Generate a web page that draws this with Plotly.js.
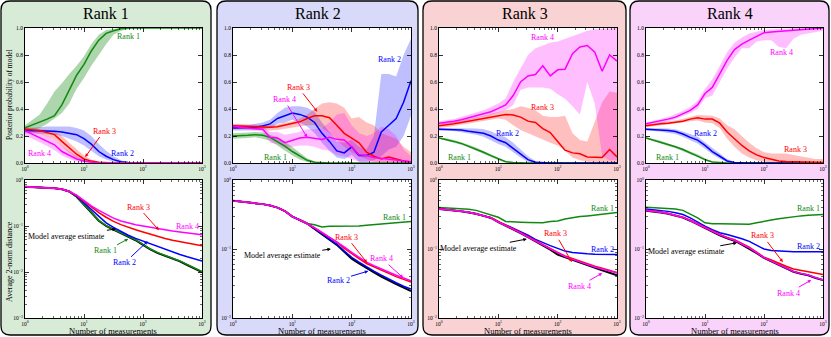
<!DOCTYPE html>
<html><head><meta charset="utf-8">
<script src="https://cdn.plot.ly/plotly-3.0.1.min.js"></script>
<style>html,body{margin:0;padding:0;background:#fff}#chart{width:831px;height:337px}</style>
</head><body><div id="chart"></div>
<script>
// ---------------- DATA ----------------
const measurements = [1,1.33,1.78,2.37,3.16,4.22,5.62,7.5,10,13.3,17.8,23.7,31.6,42.2,56.2,75,100,133,178,237,316,422,562,750,1000];
const rankNames = ['Rank 1','Rank 2','Rank 3','Rank 4'];
const decadeVals = [1,10,100,1000];
const decadeText = ['10<sup>0</sup>','10<sup>1</sup>','10<sup>2</sup>','10<sup>3</sup>'];
const probVals = [0,0.2,0.4,0.6,0.8,1.0];
const probText = ['0.0','0.2','0.4','0.6','0.8','1.0'];

// Panel 1 (true rank 1) - posterior probabilities
const p1Rank1Mean = [0.26,0.28,0.30,0.325,0.35,0.43,0.54,0.65,0.73,0.83,0.91,0.96,0.98,0.995,1,1,1,1,1,1,1,1,1,1,1];
const p1Rank1Lo   = [0.23,0.245,0.26,0.29,0.33,0.37,0.44,0.55,0.63,0.72,0.80,0.88,0.95,0.98,0.99,1,1,1,1,1,1,1,1,1,1];
const p1Rank1Hi   = [0.28,0.32,0.36,0.44,0.53,0.59,0.66,0.72,0.79,0.88,0.95,0.985,0.995,1,1,1,1,1,1,1,1,1,1,1,1];
const p1Rank2Mean = [0.24,0.24,0.24,0.24,0.235,0.23,0.22,0.21,0.18,0.14,0.085,0.05,0.025,0.01,0.003,0,0,0,0,0,0,0,0,0,0];
const p1Rank2Lo   = [0.22,0.22,0.22,0.215,0.21,0.20,0.18,0.16,0.13,0.09,0.05,0.025,0.01,0.003,0,0,0,0,0,0,0,0,0,0,0];
const p1Rank2Hi   = [0.26,0.26,0.265,0.27,0.27,0.27,0.27,0.26,0.24,0.20,0.14,0.09,0.05,0.02,0.008,0.002,0,0,0,0,0,0,0,0,0];
const p1Rank3Mean = [0.25,0.245,0.24,0.225,0.21,0.16,0.115,0.065,0.03,0.014,0.005,0.001,0,0,0,0,0,0,0,0,0,0,0,0,0];
const p1Rank3Lo   = [0.23,0.225,0.215,0.195,0.175,0.12,0.075,0.035,0.012,0.004,0,0,0,0,0,0,0,0,0,0,0,0,0,0,0];
const p1Rank3Hi   = [0.265,0.26,0.255,0.245,0.235,0.20,0.15,0.10,0.055,0.025,0.01,0.003,0,0,0,0,0,0,0,0,0,0,0,0,0];
const p1Rank4Mean = [0.24,0.215,0.19,0.16,0.135,0.085,0.055,0.03,0.015,0.005,0.001,0,0,0,0,0,0,0,0,0,0,0,0,0,0];
const p1Rank4Lo   = [0.20,0.18,0.155,0.125,0.095,0.055,0.03,0.012,0.004,0,0,0,0,0,0,0,0,0,0,0,0,0,0,0,0];
const p1Rank4Hi   = [0.26,0.24,0.22,0.20,0.175,0.125,0.085,0.05,0.025,0.01,0.003,0,0,0,0,0,0,0,0,0,0,0,0,0,0];
// Panel 1 - average 2-norm distance
const p1DistRank1 = [0.716,0.708,0.700,0.684,0.661,0.631,0.562,0.437,0.302,0.200,0.132,0.102,0.0851,0.0708,0.0603,0.0501,0.0398,0.0316,0.0263,0.0229,0.0200,0.0174,0.0145,0.0120,0.0102];
const p1DistRank2 = [0.716,0.708,0.700,0.684,0.661,0.631,0.562,0.447,0.316,0.224,0.158,0.117,0.0933,0.0759,0.0631,0.0537,0.0468,0.0407,0.0355,0.0309,0.0269,0.0240,0.0214,0.0191,0.0174];
const p1DistRank3 = [0.716,0.708,0.700,0.684,0.661,0.631,0.562,0.457,0.339,0.257,0.195,0.155,0.126,0.107,0.0933,0.0832,0.0741,0.0661,0.0589,0.0537,0.0490,0.0457,0.0427,0.0398,0.0372];
const p1DistRank4 = [0.716,0.708,0.700,0.684,0.661,0.631,0.562,0.468,0.355,0.275,0.219,0.178,0.148,0.129,0.117,0.107,0.100,0.0933,0.0871,0.0813,0.0776,0.0741,0.0708,0.0676,0.0646];
const p1DistAvg   = [0.716,0.708,0.700,0.684,0.661,0.631,0.562,0.432,0.298,0.197,0.130,0.100,0.0835,0.0695,0.0590,0.0490,0.0390,0.0310,0.0258,0.0225,0.0196,0.0170,0.0142,0.0118,0.0100];

// Panel 2 (true rank 2)
const p2Rank1Mean = [0.20,0.20,0.205,0.21,0.205,0.19,0.16,0.125,0.085,0.05,0.02,0.005,0,0,0,0,0,0,0,0,0,0,0,0,0];
const p2Rank1Lo   = [0.18,0.18,0.185,0.19,0.18,0.165,0.13,0.09,0.055,0.025,0.008,0,0,0,0,0,0,0,0,0,0,0,0,0,0];
const p2Rank1Hi   = [0.22,0.22,0.225,0.23,0.225,0.21,0.19,0.16,0.12,0.075,0.035,0.012,0.003,0,0,0,0,0,0,0,0,0,0,0,0];
const p2Rank2Mean = [0.26,0.26,0.26,0.265,0.275,0.29,0.33,0.35,0.37,0.36,0.34,0.30,0.22,0.16,0.09,0.075,0.12,0.055,0.055,0.08,0.23,0.28,0.33,0.45,0.61];
const p2Rank2Lo   = [0.24,0.24,0.24,0.24,0.25,0.26,0.29,0.30,0.32,0.30,0.27,0.22,0.15,0.09,0.04,0.03,0.06,0.01,0.01,0.02,0.05,0.10,0.12,0.20,0.35];
const p2Rank2Hi   = [0.28,0.28,0.28,0.29,0.30,0.32,0.37,0.41,0.42,0.42,0.41,0.38,0.30,0.23,0.16,0.15,0.17,0.12,0.10,0.20,0.66,0.66,0.64,0.80,0.92];
const p2Rank3Mean = [0.275,0.272,0.27,0.268,0.266,0.265,0.268,0.28,0.29,0.305,0.33,0.35,0.35,0.335,0.28,0.22,0.185,0.15,0.08,0.05,0.03,0.045,0.03,0.015,0.007];
const p2Rank3Lo   = [0.25,0.25,0.25,0.245,0.245,0.24,0.245,0.25,0.26,0.27,0.28,0.28,0.26,0.22,0.17,0.12,0.08,0.05,0.03,0.01,0.005,0,0,0,0];
const p2Rank3Hi   = [0.29,0.29,0.29,0.285,0.28,0.28,0.285,0.30,0.31,0.33,0.36,0.40,0.44,0.45,0.44,0.41,0.33,0.34,0.30,0.28,0.22,0.20,0.18,0.12,0.08];
const p2Rank4Mean = [0.27,0.265,0.265,0.26,0.25,0.19,0.185,0.15,0.17,0.185,0.19,0.18,0.175,0.19,0.175,0.17,0.12,0.06,0.055,0.04,0.035,0.03,0.02,0.015,0.01];
const p2Rank4Lo   = [0.255,0.25,0.25,0.245,0.23,0.15,0.14,0.11,0.12,0.13,0.13,0.12,0.10,0.09,0.06,0.05,0.03,0.01,0.01,0.005,0,0,0,0,0];
const p2Rank4Hi   = [0.285,0.28,0.28,0.28,0.27,0.23,0.23,0.21,0.22,0.23,0.25,0.25,0.26,0.30,0.36,0.37,0.28,0.22,0.20,0.22,0.27,0.25,0.20,0.10,0.05];
const p2DistRank1 = [0.501,0.490,0.479,0.462,0.447,0.427,0.398,0.355,0.295,0.263,0.234,0.224,0.209,0.214,0.214,0.214,0.214,0.216,0.221,0.226,0.232,0.237,0.243,0.245,0.251];
const p2DistRank2 = [0.501,0.490,0.479,0.462,0.447,0.427,0.398,0.355,0.295,0.263,0.234,0.197,0.164,0.138,0.117,0.0933,0.0759,0.0646,0.0550,0.0479,0.0417,0.0363,0.0324,0.0288,0.0263];
const p2DistRank3 = [0.501,0.490,0.479,0.462,0.447,0.427,0.398,0.355,0.295,0.263,0.234,0.200,0.170,0.145,0.126,0.102,0.0851,0.0724,0.0617,0.0550,0.0490,0.0437,0.0398,0.0363,0.0331];
const p2DistRank4 = [0.501,0.490,0.479,0.462,0.447,0.427,0.398,0.355,0.295,0.263,0.234,0.204,0.174,0.148,0.129,0.107,0.0891,0.0759,0.0646,0.0575,0.0513,0.0457,0.0417,0.0380,0.0347];
const p2DistAvg   = [0.501,0.490,0.479,0.462,0.447,0.427,0.398,0.355,0.295,0.263,0.234,0.195,0.162,0.135,0.115,0.0912,0.0724,0.0617,0.0525,0.0457,0.0398,0.0347,0.0309,0.0275,0.0245];

// Panel 3 (true rank 3)
const p3Rank1Mean = [0.185,0.175,0.16,0.145,0.125,0.105,0.08,0.055,0.03,0.01,0.003,0,0,0,0,0,0,0,0,0,0,0,0,0,0];
const p3Rank1Lo   = [0.18,0.167,0.15,0.135,0.115,0.095,0.07,0.045,0.02,0.005,0,0,0,0,0,0,0,0,0,0,0,0,0,0,0];
const p3Rank1Hi   = [0.19,0.183,0.17,0.155,0.135,0.115,0.09,0.065,0.04,0.015,0.005,0,0,0,0,0,0,0,0,0,0,0,0,0,0];
const p3Rank2Mean = [0.25,0.25,0.248,0.245,0.235,0.23,0.22,0.20,0.17,0.15,0.11,0.065,0.025,0.005,0,0,0,0,0,0,0,0,0,0,0];
const p3Rank2Lo   = [0.24,0.24,0.237,0.232,0.22,0.21,0.195,0.17,0.14,0.12,0.08,0.04,0.01,0,0,0,0,0,0,0,0,0,0,0,0];
const p3Rank2Hi   = [0.26,0.26,0.26,0.26,0.255,0.255,0.25,0.235,0.21,0.19,0.15,0.10,0.05,0.015,0.003,0,0,0,0,0,0,0,0,0,0];
const p3Rank3Mean = [0.275,0.28,0.29,0.30,0.31,0.32,0.335,0.345,0.355,0.36,0.355,0.34,0.31,0.30,0.255,0.225,0.16,0.095,0.075,0.068,0.045,0.045,0.04,0.10,0.045];
const p3Rank3Lo   = [0.26,0.265,0.275,0.285,0.29,0.30,0.31,0.32,0.33,0.32,0.28,0.245,0.22,0.20,0.175,0.15,0.13,0.09,0.04,0.02,0.01,0.01,0.005,0,0];
const p3Rank3Hi   = [0.29,0.295,0.305,0.315,0.325,0.335,0.35,0.365,0.38,0.39,0.40,0.42,0.41,0.39,0.35,0.34,0.34,0.35,0.22,0.17,0.16,0.30,0.45,0.53,0.52];
const p3Rank4Mean = [0.295,0.30,0.31,0.32,0.335,0.35,0.365,0.38,0.405,0.43,0.50,0.60,0.645,0.655,0.72,0.645,0.69,0.695,0.81,0.86,0.87,0.82,0.68,0.80,0.755];
const p3Rank4Lo   = [0.285,0.29,0.295,0.305,0.32,0.33,0.345,0.355,0.37,0.39,0.43,0.54,0.56,0.56,0.56,0.55,0.51,0.475,0.42,0.36,0.60,0.44,0.05,0.02,0.02];
const p3Rank4Hi   = [0.31,0.315,0.325,0.34,0.355,0.37,0.39,0.415,0.44,0.48,0.60,0.70,0.80,0.85,0.87,0.89,0.90,0.92,0.94,0.96,0.98,0.99,0.995,1,1];
const p3DistRank1 = [0.398,0.394,0.389,0.385,0.376,0.363,0.339,0.316,0.288,0.251,0.245,0.245,0.243,0.240,0.240,0.251,0.254,0.272,0.285,0.295,0.302,0.309,0.320,0.327,0.339];
const p3DistRank2 = [0.382,0.374,0.365,0.353,0.341,0.326,0.304,0.284,0.247,0.224,0.200,0.178,0.158,0.138,0.123,0.112,0.102,0.0933,0.0891,0.0861,0.0851,0.0841,0.0841,0.0832,0.0832];
const p3DistRank3 = [0.382,0.374,0.365,0.353,0.341,0.326,0.304,0.284,0.247,0.221,0.197,0.172,0.150,0.131,0.116,0.101,0.0891,0.0794,0.0724,0.0661,0.0617,0.0562,0.0525,0.0490,0.0457];
const p3DistRank4 = [0.381,0.373,0.364,0.352,0.340,0.325,0.303,0.283,0.246,0.220,0.196,0.171,0.149,0.130,0.115,0.100,0.0871,0.0776,0.0708,0.0646,0.0603,0.0550,0.0513,0.0479,0.0447];
const p3DistAvg   = [0.380,0.372,0.363,0.351,0.339,0.324,0.302,0.282,0.245,0.219,0.195,0.170,0.148,0.129,0.112,0.0977,0.0832,0.0759,0.0692,0.0631,0.0575,0.0525,0.0490,0.0452,0.0417];

// Panel 4 (true rank 4)
const p4Rank1Mean = [0.185,0.17,0.155,0.135,0.12,0.10,0.075,0.055,0.025,0.008,0.002,0,0,0,0,0,0,0,0,0,0,0,0,0,0];
const p4Rank1Lo   = [0.18,0.16,0.145,0.125,0.11,0.09,0.065,0.045,0.017,0.004,0,0,0,0,0,0,0,0,0,0,0,0,0,0,0];
const p4Rank1Hi   = [0.19,0.18,0.165,0.145,0.13,0.11,0.085,0.065,0.035,0.012,0.004,0,0,0,0,0,0,0,0,0,0,0,0,0,0];
const p4Rank2Mean = [0.25,0.248,0.245,0.24,0.233,0.215,0.19,0.17,0.13,0.085,0.05,0.015,0.003,0,0,0,0,0,0,0,0,0,0,0,0];
const p4Rank2Lo   = [0.24,0.237,0.232,0.225,0.215,0.195,0.168,0.145,0.105,0.065,0.032,0.005,0,0,0,0,0,0,0,0,0,0,0,0,0];
const p4Rank2Hi   = [0.26,0.26,0.258,0.255,0.25,0.235,0.215,0.195,0.155,0.11,0.07,0.03,0.008,0,0,0,0,0,0,0,0,0,0,0,0];
const p4Rank3Mean = [0.275,0.285,0.29,0.295,0.30,0.31,0.325,0.335,0.325,0.325,0.295,0.23,0.18,0.13,0.09,0.06,0.04,0.025,0.015,0.012,0.01,0.008,0.006,0.005,0.004];
const p4Rank3Lo   = [0.265,0.275,0.28,0.285,0.29,0.30,0.31,0.315,0.30,0.295,0.26,0.18,0.12,0.07,0.04,0.02,0.01,0.005,0,0,0,0,0,0,0];
const p4Rank3Hi   = [0.285,0.295,0.30,0.31,0.315,0.325,0.34,0.355,0.35,0.35,0.33,0.28,0.25,0.20,0.15,0.11,0.08,0.07,0.07,0.07,0.06,0.05,0.04,0.03,0.03];
const p4Rank4Mean = [0.29,0.30,0.31,0.325,0.34,0.365,0.39,0.43,0.515,0.56,0.665,0.76,0.84,0.88,0.91,0.94,0.965,0.97,0.975,0.98,0.985,0.99,0.995,1,1];
const p4Rank4Lo   = [0.28,0.29,0.295,0.31,0.325,0.345,0.37,0.40,0.48,0.50,0.60,0.70,0.78,0.85,0.85,0.90,0.91,0.91,0.86,0.85,0.92,0.95,0.96,0.97,0.98];
const p4Rank4Hi   = [0.30,0.31,0.325,0.34,0.36,0.385,0.415,0.46,0.55,0.62,0.72,0.82,0.89,0.93,0.96,0.975,0.985,0.99,0.99,0.995,1,1,1,1,1];
const p4DistRank1 = [0.403,0.398,0.394,0.389,0.380,0.363,0.324,0.282,0.240,0.232,0.232,0.232,0.232,0.229,0.229,0.240,0.254,0.263,0.275,0.285,0.295,0.302,0.309,0.313,0.316];
const p4DistRank2 = [0.380,0.372,0.363,0.351,0.335,0.316,0.282,0.245,0.214,0.191,0.172,0.162,0.153,0.141,0.129,0.112,0.100,0.0955,0.0933,0.0923,0.0912,0.0912,0.0912,0.0912,0.0912];
const p4DistRank3 = [0.363,0.355,0.343,0.328,0.309,0.289,0.261,0.230,0.204,0.182,0.162,0.147,0.136,0.120,0.106,0.0900,0.0759,0.0692,0.0617,0.0562,0.0513,0.0490,0.0473,0.0447,0.0427];
const p4DistRank4 = [0.361,0.353,0.341,0.326,0.307,0.287,0.259,0.228,0.202,0.180,0.160,0.145,0.134,0.118,0.104,0.0885,0.0750,0.0668,0.0595,0.0530,0.0472,0.0440,0.0420,0.0383,0.0358];
const p4DistAvg   = [0.359,0.351,0.339,0.324,0.305,0.285,0.257,0.226,0.200,0.178,0.158,0.143,0.132,0.116,0.102,0.0871,0.0741,0.0661,0.0589,0.0525,0.0468,0.0437,0.0417,0.0380,0.0355];

// ---------------- STYLE / LAYOUT ----------------
const W = 831, H = 337;
const colors = ['#118811','#0000ff','#ff0000','#ff00ff'];
const fills = ['rgba(0,128,0,0.32)','rgba(0,0,255,0.25)','rgba(255,0,0,0.25)','rgba(255,0,255,0.25)'];
const panelBg = ['#d7ebd7','#d9d9f9','#f9d3d3','#f9d3f9'];
const FONT = '"Liberation Serif", "Times New Roman", Times, "DejaVu Serif", serif';

const panels = [
  {mean:[p1Rank1Mean,p1Rank2Mean,p1Rank3Mean,p1Rank4Mean], lo:[p1Rank1Lo,p1Rank2Lo,p1Rank3Lo,p1Rank4Lo], hi:[p1Rank1Hi,p1Rank2Hi,p1Rank3Hi,p1Rank4Hi], dist:[p1DistRank1,p1DistRank2,p1DistRank3,p1DistRank4], avg:p1DistAvg, ymin:-3},
  {mean:[p2Rank1Mean,p2Rank2Mean,p2Rank3Mean,p2Rank4Mean], lo:[p2Rank1Lo,p2Rank2Lo,p2Rank3Lo,p2Rank4Lo], hi:[p2Rank1Hi,p2Rank2Hi,p2Rank3Hi,p2Rank4Hi], dist:[p2DistRank1,p2DistRank2,p2DistRank3,p2DistRank4], avg:p2DistAvg, ymin:-2},
  {mean:[p3Rank1Mean,p3Rank2Mean,p3Rank3Mean,p3Rank4Mean], lo:[p3Rank1Lo,p3Rank2Lo,p3Rank3Lo,p3Rank4Lo], hi:[p3Rank1Hi,p3Rank2Hi,p3Rank3Hi,p3Rank4Hi], dist:[p3DistRank1,p3DistRank2,p3DistRank3,p3DistRank4], avg:p3DistAvg, ymin:-2},
  {mean:[p4Rank1Mean,p4Rank2Mean,p4Rank3Mean,p4Rank4Mean], lo:[p4Rank1Lo,p4Rank2Lo,p4Rank3Lo,p4Rank4Lo], hi:[p4Rank1Hi,p4Rank2Hi,p4Rank3Hi,p4Rank4Hi], dist:[p4DistRank1,p4DistRank2,p4DistRank3,p4DistRank4], avg:p4DistAvg, ymin:-2}
];

// pixel geometry
const plotX = [[25,202],[233,411],[439,617],[646,823]];
const boxX = [[1,211],[217,418],[423,626],[630,829]];
const topY = [28,163], botY = [180,318];
const pxX = v => v / W, pxY = v => 1 - v / H;

const traces = [];
const layout = {
  width: W, height: H, margin:{l:0,r:0,t:0,b:0},
  paper_bgcolor:'#ffffff', plot_bgcolor:'#ffffff', showlegend:false,
  font:{family:FONT, color:'#000'}, shapes:[], annotations:[]
};

function axisBase(){
  return {showgrid:false, zeroline:false, showline:true, linecolor:'#000', linewidth:1,
    mirror:'allticks', ticks:'inside', ticklen:4, tickwidth:0.8, tickcolor:'#000',
    tickfont:{family:FONT, size:5.5, color:'#000'}, fixedrange:true};
}
const minorLog = {ticks:'inside', ticklen:2, tickwidth:0.6, tickcolor:'#000',
  tickmode:'array', tickvals:[2,3,4,5,6,7,8,9,20,30,40,50,60,70,80,90,200,300,400,500,600,700,800,900]};
const minorLogY = {ticks:'inside', ticklen:2, tickwidth:0.6, tickcolor:'#000',
  tickmode:'array', tickvals:[0.002,0.003,0.004,0.005,0.006,0.007,0.008,0.009,0.02,0.03,0.04,0.05,0.06,0.07,0.08,0.09,0.2,0.3,0.4,0.5,0.6,0.7,0.8,0.9]};

function rr(x0,y0,x1,y1,r){
  const X=pxX, Y=pxY;
  return `M${X(x0+r)},${Y(y0)} L${X(x1-r)},${Y(y0)} Q${X(x1)},${Y(y0)} ${X(x1)},${Y(y0+r)} `+
         `L${X(x1)},${Y(y1-r)} Q${X(x1)},${Y(y1)} ${X(x1-r)},${Y(y1)} L${X(x0+r)},${Y(y1)} `+
         `Q${X(x0)},${Y(y1)} ${X(x0)},${Y(y1-r)} L${X(x0)},${Y(y0+r)} Q${X(x0)},${Y(y0)} ${X(x0+r)},${Y(y0)} Z`;
}

panels.forEach((P, k) => {
  const ti = k + 1, bi = k + 5;
  const xt = ti === 1 ? 'x' : 'x' + ti, yt = ti === 1 ? 'y' : 'y' + ti;
  const xb = 'x' + bi, yb = 'y' + bi;
  const dom = [pxX(plotX[k][0]), pxX(plotX[k][1])];

  layout[ti === 1 ? 'xaxis' : 'xaxis' + ti] = Object.assign(axisBase(), {domain:dom, anchor:yt, type:'log', range:[0,3],
    tickmode:'array', tickvals:decadeVals, ticktext:decadeText, minor:minorLog});
  layout[ti === 1 ? 'yaxis' : 'yaxis' + ti] = Object.assign(axisBase(), {domain:[pxY(topY[1]), pxY(topY[0])], anchor:xt, range:[0,1],
    tickmode:'array', tickvals:probVals, ticktext:probText});
  layout['xaxis' + bi] = Object.assign(axisBase(), {domain:dom, anchor:yb, type:'log', range:[0,3],
    tickmode:'array', tickvals:decadeVals, ticktext:decadeText, minor:minorLog});
  const yv = [], yt2 = [];
  for (let e = P.ymin; e <= 0; e++) { yv.push(Math.pow(10, e)); yt2.push('10<sup>' + (e < 0 ? '\u2212' + (-e) : '0') + '</sup>'); }
  layout['yaxis' + bi] = Object.assign(axisBase(), {domain:[pxY(botY[1]), pxY(botY[0])], anchor:xb, type:'log', range:[P.ymin,0],
    tickmode:'array', tickvals:yv, ticktext:yt2, minor:minorLogY});

  // bands
  const rev = measurements.slice().reverse();
  for (let r = 0; r < 4; r++) {
    traces.push({type:'scatter', mode:'lines', x:measurements.concat(rev), y:P.hi[r].concat(P.lo[r].slice().reverse()),
      xaxis:xt, yaxis:yt, fill:'toself', fillcolor:fills[r], line:{width:0}, hoverinfo:'skip'});
  }
  for (let r = 0; r < 4; r++) {
    traces.push({type:'scatter', mode:'lines', x:measurements, y:P.mean[r], xaxis:xt, yaxis:yt,
      line:{color:colors[r], width:1.5}, name:rankNames[r]});
  }
  // distances
  traces.push({type:'scatter', mode:'lines', x:measurements, y:P.avg, xaxis:xb, yaxis:yb, line:{color:'#000', width:2}, name:'Model average estimate'});
  for (let r = 0; r < 4; r++) {
    traces.push({type:'scatter', mode:'lines', x:measurements, y:P.dist[r], xaxis:xb, yaxis:yb,
      line:{color:colors[r], width:1.5}, name:rankNames[r]});
  }

  // panel background
  layout.shapes.push({type:'path', xref:'paper', yref:'paper', layer:'below', path:rr(boxX[k][0],1,boxX[k][1],335,9),
    fillcolor:panelBg[k], line:{color:'#000', width:1.3}});
  [topY, botY].forEach(yy => layout.shapes.push({type:'rect', xref:'paper', yref:'paper', layer:'below',
    x0:pxX(plotX[k][0]), x1:pxX(plotX[k][1]), y0:pxY(yy[1]), y1:pxY(yy[0]), fillcolor:'#ffffff', line:{width:0}}));

  // titles
  layout.annotations.push({xref:'paper', yref:'paper', x:pxX((boxX[k][0]+boxX[k][1])/2), y:pxY(13), text:rankNames[k],
    showarrow:false, font:{family:FONT, size:16, color:'#000'}, xanchor:'center', yanchor:'middle'});
  layout.annotations.push({xref:'paper', yref:'paper', x:pxX((plotX[k][0]+plotX[k][1])/2), y:pxY(330.5), text:'Number of measurements',
    showarrow:false, font:{family:FONT, size:8.5, color:'#000'}, xanchor:'center', yanchor:'middle'});
});

layout.annotations.push({xref:'paper', yref:'paper', x:pxX(9), y:pxY(95), text:'Posterior probability of model', textangle:-90,
  showarrow:false, font:{family:FONT, size:7.5, color:'#000'}, xanchor:'center', yanchor:'middle'});
layout.annotations.push({xref:'paper', yref:'paper', x:pxX(9), y:pxY(262), text:'Average 2-norm distance', textangle:-90,
  showarrow:false, font:{family:FONT, size:8, color:'#000'}, xanchor:'center', yanchor:'middle'});

// labels: [subplot index, text, colorIndex(-1 black), textLogX, textY, headLogX, headY]
const labels = [
  [1,'Rank 1',0,1.76,0.94], [1,'Rank 3',2,1.34,0.237,1.02,0.044], [1,'Rank 2',1,1.66,0.074], [1,'Rank 4',3,0.25,0.067],
  [5,'Rank 3',2,1.92,-0.59,2.27,-1.09], [5,'Rank 4',3,2.75,-1.0], [5,'Model average estimate',-1,0.71,-1.22,1.54,-1.065],
  [5,'Rank 1',0,1.37,-1.54,1.75,-1.28], [5,'Rank 2',1,1.69,-1.80,2.08,-1.33],
  [2,'Rank 2',1,2.63,0.77], [2,'Rank 3',2,1.10,0.56,1.42,0.38], [2,'Rank 4',3,0.86,0.47,1.25,0.19], [2,'Rank 1',0,0.72,0.04],
  [6,'Rank 1',0,2.73,-0.55], [6,'Rank 3',2,1.92,-0.83,2.26,-1.20], [6,'Rank 4',3,2.51,-1.14,2.87,-1.42],
  [6,'Model average estimate',-1,0.83,-1.10,1.65,-1.0], [6,'Rank 2',1,1.77,-1.45,2.28,-1.32],
  [3,'Rank 4',3,1.75,0.93], [3,'Rank 3',2,1.75,0.41], [3,'Rank 2',1,1.16,0.215], [3,'Rank 1',0,0.35,0.04],
  [7,'Rank 1',0,2.75,-0.41], [7,'Rank 3',2,1.96,-0.78,2.24,-1.19], [7,'Rank 2',1,2.76,-1.0],
  [7,'Model average estimate',-1,0.67,-0.99,1.48,-0.855], [7,'Rank 4',3,2.36,-1.54,2.75,-1.35],
  [4,'Rank 4',3,2.30,0.82], [4,'Rank 2',1,1.0,0.215], [4,'Rank 3',2,2.54,0.10], [4,'Rank 1',0,0.36,0.04],
  [8,'Rank 1',0,2.76,-0.42], [8,'Rank 3',2,1.98,-0.81,2.32,-1.19], [8,'Rank 2',1,2.76,-0.96],
  [8,'Model average estimate',-1,0.69,-1.04,1.54,-0.91], [8,'Rank 4',3,2.41,-1.64,2.80,-1.45]
];
labels.forEach(L => {
  const [s, text, ci, tx, ty, hx, hy] = L;
  const xr = s === 1 ? 'x' : 'x' + s, yr = s === 1 ? 'y' : 'y' + s;
  const col = ci < 0 ? '#000' : colors[ci];
  const a = {xref:xr, yref:yr, text:text, font:{family:FONT, size:8, color:col}};
  if (hx === undefined) { Object.assign(a, {x:tx, y:ty, showarrow:false}); }
  else { Object.assign(a, {x:hx, y:hy, ax:tx, ay:ty, axref:xr, ayref:yr, showarrow:true, arrowhead:2, arrowsize:0.7, arrowwidth:1, arrowcolor:col, standoff:0}); }
  layout.annotations.push(a);
});

Plotly.newPlot('chart', traces, layout, {staticPlot:true, displayModeBar:false});
</script>
</body></html>
